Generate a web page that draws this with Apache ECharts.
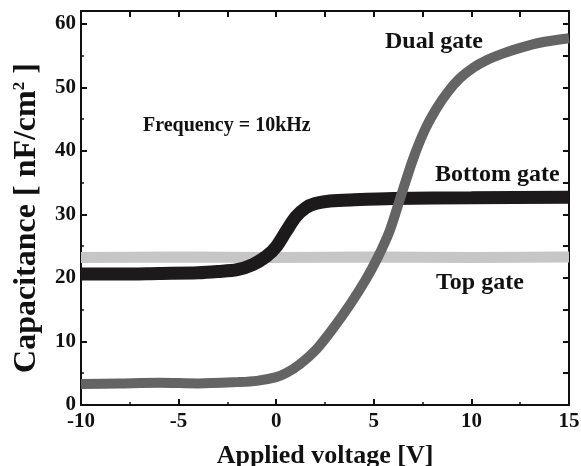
<!DOCTYPE html>
<html>
<head>
<meta charset="utf-8">
<script src="https://cdn.jsdelivr.net/npm/echarts@6/dist/echarts.min.js"></script>
<style>
  html, body { margin: 0; padding: 0; background: #fff; }
  #chart { width: 581px; height: 466px; }
</style>
</head>
<body>
<div id="chart"></div>
<script>
// C-V curves: [voltage V, capacitance nF/cm2]
const topGate = [[-10, 23.2], [-5, 23.3], [0, 23.2], [5, 23.3], [10, 23.2], [15, 23.3]];
const bottomGate = [
    [-10, 20.6], [-8, 20.6], [-6, 20.7], [-4, 20.8], [-3, 21.0], [-2, 21.3],
    [-1.2, 22.1], [-0.5, 23.4], [0, 24.9], [0.5, 27.3], [1.0, 29.6], [1.5, 31.0],
    [2.0, 31.7], [2.75, 32.1], [4, 32.3], [6, 32.5], [10, 32.6], [15, 32.7]
];
const dualGate = [
    [-10, 3.3], [-8, 3.4], [-6, 3.5], [-4, 3.4], [-2, 3.6], [-1, 3.8], [0, 4.4],
    [0.5, 5.0], [1.2, 6.4], [2.07, 8.8], [2.9, 12.0], [3.8, 15.9], [4.6, 19.8],
    [5.2, 23.2], [5.8, 27.3], [6.35, 32.5], [7.0, 38.6], [7.6, 43.2],
    [8.2, 46.6], [8.8, 49.3], [9.4, 51.4], [10.1, 53.1], [10.8, 54.3], [11.6, 55.3],
    [12.5, 56.2], [13.5, 57.0], [15, 57.7]
];
const xTicks = [-10, -5, 0, 5, 10, 15];
const yTicks = [0, 10, 20, 30, 40, 50, 60];

const serif = "'Liberation Serif', 'Times New Roman', serif";
const chart = echarts.init(document.getElementById("chart"));

const tickStyle = { show: true, inside: true, length: 6, lineStyle: { color: "#111", width: 2 } };
const minorStyle = { show: true, splitNumber: 2, length: 3, lineStyle: { color: "#111", width: 1.5 } };
const lineStyle = { show: true, onZero: false, lineStyle: { color: "#111", width: 2 } };

const option = {
    animation: false,
    backgroundColor: "#fff",
    grid: { left: 81, right: 12, top: 11, bottom: 61, outerBoundsMode: "none", containLabel: false },
    xAxis: [
        {
            type: "value",
            min: xTicks[0],
            max: xTicks[xTicks.length - 1],
            interval: 5,
            axisLine: lineStyle,
            axisTick: tickStyle,
            minorTick: minorStyle,
            splitLine: { show: false },
            axisLabel: {
                margin: 6,
                color: "#111",
                fontFamily: serif,
                fontWeight: "bold",
                fontSize: 21,
            },
            name: "Applied voltage [V]",
            nameLocation: "middle",
            nameGap: 38,
            nameTextStyle: { color: "#111", fontFamily: serif, fontWeight: "bold", fontSize: 26 },
        },
        {
            type: "value",
            position: "top",
            min: xTicks[0],
            max: xTicks[xTicks.length - 1],
            interval: 2.5,
            axisLine: lineStyle,
            axisTick: tickStyle,
            axisLabel: { show: false },
            splitLine: { show: false },
        },
    ],
    yAxis: [
        {
            type: "value",
            min: yTicks[0],
            max: 62,
            interval: 10,
            axisLine: lineStyle,
            axisTick: tickStyle,
            minorTick: minorStyle,
            splitLine: { show: false },
            axisLabel: {
                margin: 5,
                color: "#111",
                fontFamily: serif,
                fontWeight: "bold",
                fontSize: 21,
                formatter: function (v) {
                    return yTicks.indexOf(v) >= 0 ? String(v) : "";
                },
            },
            name: "{a|Capacitance [ nF/cm}{s|2}{a| ]}",
            nameLocation: "middle",
            nameGap: 38,
            nameTextStyle: {
                padding: [0, 20, 0, 0],
                rich: {
                    a: { color: "#111", fontFamily: serif, fontWeight: "bold", fontSize: 32 },
                    s: { color: "#111", fontFamily: serif, fontWeight: "bold", fontSize: 17, verticalAlign: "top", padding: [0, 0, 15, 0] },
                },
            },
        },
        {
            type: "value",
            position: "right",
            min: 0,
            max: 62,
            interval: 5,
            axisLine: lineStyle,
            axisTick: tickStyle,
            axisLabel: { show: false },
            splitLine: { show: false },
        },
    ],
    graphic: [
        { type: "text", left: 385, top: 30, style: { text: "Dual gate", font: "bold 24px " + serif, fill: "#111" } },
        { type: "text", left: 143, top: 116, style: { text: "Frequency = 10kHz", font: "bold 20px " + serif, fill: "#111" } },
        { type: "text", left: 435, top: 163, style: { text: "Bottom gate", font: "bold 24px " + serif, fill: "#111" } },
        { type: "text", left: 436, top: 271, style: { text: "Top gate", font: "bold 24px " + serif, fill: "#111" } },
    ],
    series: [
        {
            name: "Top gate",
            type: "line",
            data: topGate,
            showSymbol: false,
            lineStyle: { color: "#c6c6c6", width: 11 },
            z: 2,
        },
        {
            name: "Bottom gate",
            type: "line",
            data: bottomGate,
            smooth: 0.3,
            showSymbol: false,
            lineStyle: { color: "#1c1a1a", width: 13 },
            z: 3,
        },
        {
            name: "Dual gate",
            type: "line",
            data: dualGate,
            smooth: 0.3,
            showSymbol: false,
            lineStyle: { color: "#646464", width: 10 },
            z: 4,
        },
    ],
};
chart.setOption(option);

window.addEventListener("resize", function () {
    chart.resize();
});
</script>
</body>
</html>
